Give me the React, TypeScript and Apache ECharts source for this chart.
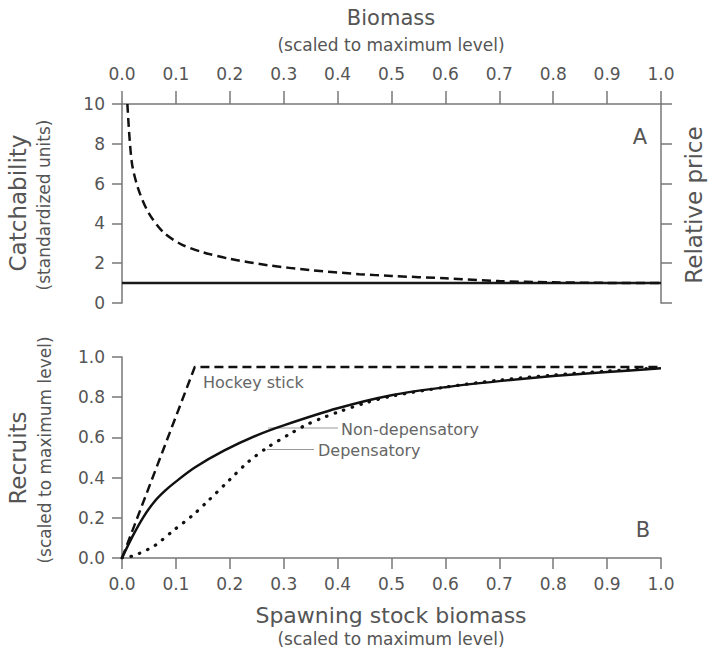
import React, { useEffect, useRef } from "react";
import * as echarts from "echarts";

// Panel A: catchability (dashed) and relative price (solid)
const catchB = [0.01, 0.018, 0.03, 0.049, 0.077, 0.11, 0.15, 0.2, 0.27, 0.35, 0.44, 0.5, 0.6, 0.7, 0.8, 0.9, 1.0];
const catchQ = [10, 7.1, 5.75, 4.55, 3.55, 2.95, 2.55, 2.22, 1.9, 1.65, 1.45, 1.36, 1.24, 1.1, 1.04, 1.01, 1.0];
const priceB = [0, 1];
const priceP = [1, 1];

// Panel B: stock-recruitment curves
const hockeyB = [0, 0.135, 1.0];
const hockeyR = [0, 0.95, 0.95];
const nonDepB = [0, 0.02, 0.04, 0.06, 0.08, 0.1, 0.135, 0.19, 0.25, 0.3, 0.4, 0.5, 0.6, 0.7, 0.8, 0.9, 1.0];
const nonDepR = [0, 0.11, 0.205, 0.28, 0.335, 0.38, 0.45, 0.535, 0.61, 0.66, 0.745, 0.81, 0.85, 0.88, 0.905, 0.925, 0.944];
const depB = [0, 0.02, 0.033, 0.06, 0.095, 0.13, 0.16, 0.2, 0.235, 0.27, 0.31, 0.34, 0.37, 0.4, 0.45, 0.5, 0.6, 0.7, 0.8, 0.9, 1.0];
const depR = [0, 0.01, 0.024, 0.06, 0.136, 0.21, 0.285, 0.39, 0.48, 0.55, 0.615, 0.66, 0.695, 0.725, 0.77, 0.805, 0.85, 0.885, 0.91, 0.93, 0.947];

const zip = (a: number[], b: number[]) => a.map((v, i) => [v, b[i]]);

const FONT = "DejaVu Sans";
const TXT = "#555";
const AX = "#777";

export default function App() {
  const ref = useRef<HTMLDivElement>(null);
  useEffect(() => {
    if (!ref.current) return;
    const chart = echarts.init(ref.current, null, { renderer: "svg" });
    const axisLine = { show: true, onZero: false, lineStyle: { color: AX, width: 1.5 } };
    const tickStyle = { color: AX, width: 1.5 };
    const label = (margin: number, fmt: (v: number) => string) => ({
      show: true,
      color: TXT,
      fontSize: 17,
      fontFamily: FONT,
      margin,
      formatter: fmt,
    });
    const f1 = (v: number) => v.toFixed(1);
    const f0 = (v: number) => String(v);
    const txt = (text: string, x: number, y: number, size: number, rot = 0, align = "center", color = TXT) => ({
      type: "text",
      x,
      y,
      rotation: rot,
      style: {
        text,
        fontSize: size,
        fontFamily: FONT,
        fill: color,
        align,
        verticalAlign: "middle",
      },
    });
    const option: any = {
      animation: false,
      backgroundColor: "#fff",
      grid: [
        { left: 122, top: 104, width: 539, height: 199 },
        { left: 122, top: 357, width: 539, height: 201 },
      ],
      xAxis: [
        {
          gridIndex: 0,
          type: "value",
          position: "top",
          min: 0,
          max: 1,
          interval: 0.1,
          axisLine,
          axisTick: { show: true, inside: false, length: 13, lineStyle: tickStyle },
          axisLabel: label(22, f1),
          splitLine: { show: false },
        },
        {
          gridIndex: 1,
          type: "value",
          position: "bottom",
          min: 0,
          max: 1,
          interval: 0.1,
          axisLine,
          axisTick: { show: true, inside: false, length: 11, lineStyle: tickStyle },
          axisLabel: label(17, f1),
          splitLine: { show: false },
        },
      ],
      yAxis: [
        {
          gridIndex: 0,
          type: "value",
          position: "left",
          min: 0,
          max: 10,
          interval: 2,
          axisLine,
          axisTick: { show: true, inside: false, length: 10, lineStyle: tickStyle },
          axisLabel: label(17, f0),
          splitLine: { show: false },
        },
        {
          gridIndex: 0,
          type: "value",
          position: "right",
          min: 0,
          max: 10,
          interval: 2,
          axisLine,
          axisTick: { show: true, inside: false, length: 11, lineStyle: tickStyle },
          axisLabel: { show: false },
          splitLine: { show: false },
        },
        {
          gridIndex: 1,
          type: "value",
          position: "left",
          min: 0,
          max: 1,
          interval: 0.2,
          axisLine,
          axisTick: { show: true, inside: false, length: 10, lineStyle: tickStyle },
          axisLabel: label(17, f1),
          splitLine: { show: false },
        },
      ],
      series: [
        {
          type: "line",
          xAxisIndex: 0,
          yAxisIndex: 0,
          data: zip(priceB, priceP),
          showSymbol: false,
          lineStyle: { color: "#1a1a1a", width: 2.5 },
          z: 3,
        },
        {
          type: "line",
          xAxisIndex: 0,
          yAxisIndex: 0,
          data: zip(catchB, catchQ),
          smooth: 0.3,
          showSymbol: false,
          lineStyle: { color: "#111", width: 2.5, type: [9, 5] },
          z: 4,
        },
        {
          type: "line",
          xAxisIndex: 1,
          yAxisIndex: 2,
          data: zip(hockeyB, hockeyR),
          showSymbol: false,
          lineStyle: { color: "#111", width: 2.5, type: [9, 5] },
          z: 4,
        },
        {
          type: "line",
          xAxisIndex: 1,
          yAxisIndex: 2,
          data: zip(nonDepB, nonDepR),
          smooth: 0.3,
          showSymbol: false,
          lineStyle: { color: "#111", width: 2.5 },
          z: 4,
        },
        {
          type: "line",
          xAxisIndex: 1,
          yAxisIndex: 2,
          data: zip(depB, depR),
          smooth: 0.3,
          showSymbol: false,
          lineStyle: { color: "#111", width: 3.2, type: [0.5, 8.5], cap: "round" },
          z: 5,
        },
      ],
      graphic: [
        txt("Biomass", 391, 18, 21),
        txt("(scaled to maximum level)", 391, 45, 17),
        txt("Spawning stock biomass", 391, 615, 22),
        txt("(scaled to maximum level)", 391, 639, 17),
        txt("Catchability", 18, 203, 23, Math.PI / 2),
        txt("(standardized units)", 44, 205, 17, Math.PI / 2),
        txt("Relative price", 694, 205, 23, Math.PI / 2),
        txt("Recruits", 18, 458, 23, Math.PI / 2),
        txt("(scaled to maximum level)", 45, 450, 17, Math.PI / 2),
        txt("A", 640, 137, 21),
        txt("B", 643, 530, 21),
        txt("Hockey stick", 203, 382, 16, 0, "left", "#666"),
        txt("Non-depensatory", 341, 429, 16, 0, "left", "#666"),
        txt("Depensatory", 318, 450, 16, 0, "left", "#666"),
        {
          type: "line",
          shape: { x1: 268, y1: 428, x2: 338, y2: 428 },
          style: { stroke: "#999", lineWidth: 1.2 },
        },
        {
          type: "line",
          shape: { x1: 267, y1: 449.5, x2: 314, y2: 449.5 },
          style: { stroke: "#999", lineWidth: 1.2 },
        },
      ],
    };
    chart.setOption(option);
    return () => chart.dispose();
  }, []);
  return (
    <div
      ref={ref}
      style={{ position: "absolute", left: 0, top: 0, width: 708, height: 652 }}
    />
  );
}
